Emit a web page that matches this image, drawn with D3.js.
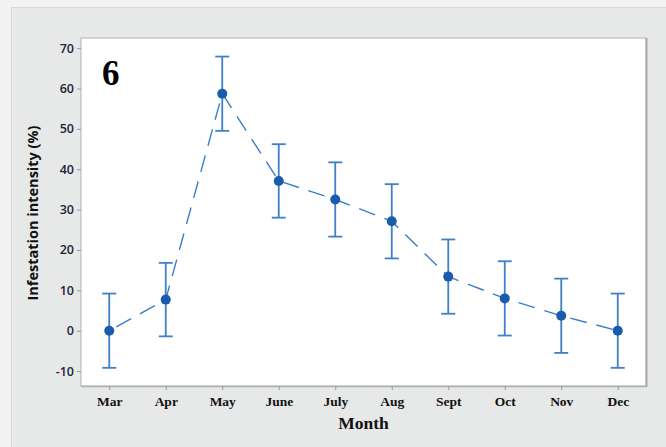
<!DOCTYPE html>
<html>
<head>
<meta charset="utf-8">
<script src="https://cdn.jsdelivr.net/npm/d3@7"></script>
<style>
  html, body { margin: 0; padding: 0; background: #f2f2f2; }
  svg { display: block; }
</style>
</head>
<body>
<svg id="chart" width="666" height="447"></svg>
<script>
// Monthly infestation intensity (%) with error bars
const months = ["Mar", "Apr", "May", "June", "July", "Aug", "Sept", "Oct", "Nov", "Dec"];
const meanValues = [0, 7.7, 58.7, 37.1, 32.5, 27.1, 13.4, 8.0, 3.7, 0];
const errorValues = [9.2, 9.1, 9.2, 9.1, 9.2, 9.2, 9.2, 9.2, 9.2, 9.2];
const yTicks = [-10, 0, 10, 20, 30, 40, 50, 60, 70];
const panelLabel = "6";
const xTitle = "Month";
const yTitle = "Infestation intensity (%)";

const svg = d3.select("#chart");

// figure panel
svg.append("rect")
  .attr("x", 11.5).attr("y", 7.5)
  .attr("width", 680).attr("height", 460)
  .attr("fill", "#e7e8e8")
  .attr("stroke", "#d9d9d9");

const plot = { left: 81, top: 38, right: 646, bottom: 386 };

const x = d3.scalePoint()
  .domain(months)
  .range([plot.left, plot.right])
  .padding(0.5);

const y = d3.scaleLinear()
  .domain([-13.7, 72.5])
  .range([plot.bottom, plot.top]);

// data region
svg.append("rect")
  .attr("x", plot.left).attr("y", plot.top)
  .attr("width", plot.right - plot.left).attr("height", plot.bottom - plot.top)
  .attr("fill", "#ffffff")
  .attr("stroke", "#b4b4b4")
  .attr("stroke-width", 1);
svg.append("line")
  .attr("x1", plot.right + 0.5).attr("x2", plot.right + 0.5)
  .attr("y1", plot.top).attr("y2", plot.bottom + 1)
  .attr("stroke", "#a9a9a9").attr("stroke-width", 2);
svg.append("line")
  .attr("x1", plot.left).attr("x2", plot.right + 1)
  .attr("y1", plot.bottom + 0.5).attr("y2", plot.bottom + 0.5)
  .attr("stroke", "#b0b0b0").attr("stroke-width", 1.5);

// y axis (plain hyphen for negatives)
const yAxis = d3.axisLeft(y)
  .tickValues(yTicks)
  .tickFormat(d => String(d))
  .tickSize(4).tickPadding(3);
const gy = svg.append("g")
  .attr("transform", `translate(${plot.left},0)`)
  .call(yAxis);
gy.select(".domain").remove();
gy.selectAll(".tick line").attr("stroke", "#9a9a9a");
gy.selectAll(".tick text")
  .attr("fill", "#1b2535")
  .style("font-family", "'Open Sans', 'Liberation Sans', sans-serif")
  .style("font-weight", "600")
  .style("font-size", "12.5px");

// x axis
const xAxis = d3.axisBottom(x).tickSize(4).tickPadding(6);
const gx = svg.append("g")
  .attr("transform", `translate(0,${plot.bottom})`)
  .call(xAxis);
gx.select(".domain").remove();
gx.selectAll(".tick line").attr("stroke", "#9a9a9a");
gx.selectAll(".tick text")
  .attr("fill", "#111")
  .style("font-family", "'Liberation Serif', 'Times New Roman', serif")
  .style("font-weight", "bold")
  .style("font-size", "13.5px");

// axis titles
svg.append("text")
  .attr("x", (plot.left + plot.right) / 2)
  .attr("y", 429)
  .attr("text-anchor", "middle")
  .attr("fill", "#111")
  .style("font-family", "'Liberation Serif', 'Times New Roman', serif")
  .style("font-weight", "bold")
  .style("font-size", "17.5px")
  .text(xTitle);

svg.append("text")
  .attr("transform", `translate(38,${(plot.top + plot.bottom) / 2 + 1}) rotate(-90)`)
  .attr("text-anchor", "middle")
  .attr("fill", "#111")
  .style("font-family", "'Open Sans', 'Liberation Sans', sans-serif")
  .style("font-weight", "700")
  .style("font-size", "14.5px")
  .text(yTitle);

// panel number
svg.append("text")
  .attr("x", 102)
  .attr("y", 85)
  .attr("fill", "#000")
  .style("font-family", "'Liberation Serif', 'Times New Roman', serif")
  .style("font-weight", "bold")
  .style("font-size", "35px")
  .text(panelLabel);

const data = months.map((m, i) => ({ month: m, mean: meanValues[i], err: errorValues[i] }));

// dashed connecting line
const line = d3.line().x(d => x(d.month)).y(d => y(d.mean));
svg.append("path")
  .datum(data)
  .attr("d", line)
  .attr("fill", "none")
  .attr("stroke", "#3a7dc9")
  .attr("stroke-width", 1.4)
  .attr("stroke-dasharray", "17,10")
  .attr("stroke-dashoffset", -8);

// error bars
const capHalf = 7;
const bars = svg.append("g").attr("stroke", "#3f80c8").attr("stroke-width", 1.8).attr("fill", "none");
bars.selectAll("line.whisker")
  .data(data).join("line")
  .attr("class", "whisker")
  .attr("x1", d => x(d.month)).attr("x2", d => x(d.month))
  .attr("y1", d => y(d.mean - d.err)).attr("y2", d => y(d.mean + d.err));
bars.selectAll("line.capTop")
  .data(data).join("line")
  .attr("class", "capTop")
  .attr("x1", d => x(d.month) - capHalf).attr("x2", d => x(d.month) + capHalf)
  .attr("y1", d => y(d.mean + d.err)).attr("y2", d => y(d.mean + d.err));
bars.selectAll("line.capBot")
  .data(data).join("line")
  .attr("class", "capBot")
  .attr("x1", d => x(d.month) - capHalf).attr("x2", d => x(d.month) + capHalf)
  .attr("y1", d => y(d.mean - d.err)).attr("y2", d => y(d.mean - d.err));

// mean markers
svg.append("g").selectAll("circle")
  .data(data).join("circle")
  .attr("cx", d => x(d.month))
  .attr("cy", d => y(d.mean))
  .attr("r", 5)
  .attr("fill", "#1a5cac");
</script>
</body>
</html>
